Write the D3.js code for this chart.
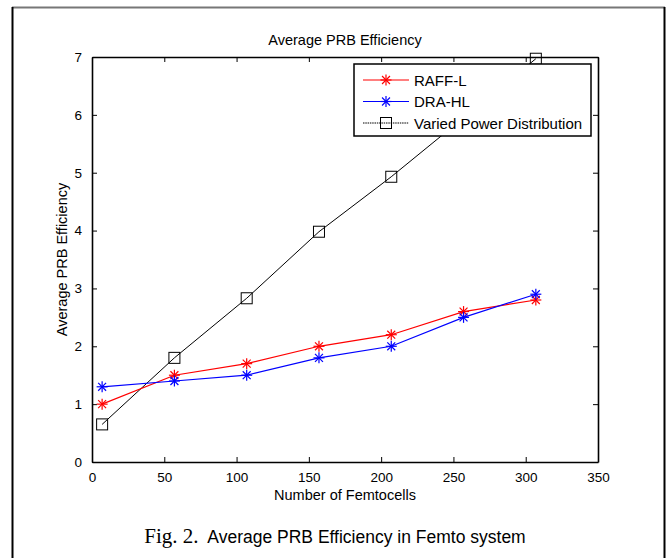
<!DOCTYPE html>
<html>
  <head>
    <meta charset="utf-8">
    <script src="https://d3js.org/d3.v7.min.js"></script>
    <style>
      body { margin: 0; background: #fff; }
      text { font-family: "Liberation Sans", Arial, sans-serif; }
    </style>
  </head>
  <body>
    <div id="my_chart"></div>
    <script>
      // values
      var femtocells = [7, 57, 107, 157, 207, 257, 307];
      var raffL = [1.0, 1.5, 1.7, 2.0, 2.2, 2.6, 2.8];
      var draHL = [1.3, 1.4, 1.5, 1.8, 2.0, 2.5, 2.9];
      var variedPower = [0.65, 1.8, 2.83, 3.98, 4.93, 5.95, 6.97];
      var xTicks = [0, 50, 100, 150, 200, 250, 300, 350];
      var yTicks = [0, 1, 2, 3, 4, 5, 6, 7];
      var seriesNames = ["RAFF-L", "DRA-HL", "Varied Power Distribution"];

      var W = 668, H = 558;
      var margin = {top: 57, right: 70, bottom: 96, left: 92},
          width = W - margin.left - margin.right,
          height = H - margin.top - margin.bottom;

      var svg = d3.select("#my_chart").append("svg")
          .attr("width", W).attr("height", H);

      // outer figure frame
      svg.append("line").attr("x1", 12).attr("x2", 665).attr("y1", 7.5).attr("y2", 7.5)
          .attr("stroke", "#777").attr("stroke-width", 2);
      svg.append("line").attr("x1", 12.5).attr("x2", 12.5).attr("y1", 7).attr("y2", H)
          .attr("stroke", "#000").attr("stroke-width", 2);
      svg.append("line").attr("x1", 664.5).attr("x2", 664.5).attr("y1", 7).attr("y2", H)
          .attr("stroke", "#000").attr("stroke-width", 2);

      var g = svg.append("g")
          .attr("transform", "translate(" + margin.left + "," + margin.top + ")");

      var x = d3.scaleLinear().domain([0, 350]).range([0, width]);
      var y = d3.scaleLinear().domain([0, 7]).range([height, 0]);

      // axes with inward ticks (box style)
      var xAxis = g.append("g").attr("transform", "translate(0," + height + ")")
          .call(d3.axisBottom(x).tickValues(xTicks).tickSizeInner(-5).tickSizeOuter(0).tickPadding(10));
      var xTop = g.append("g")
          .call(d3.axisTop(x).tickValues(xTicks).tickSizeInner(-5).tickSizeOuter(0).tickFormat(""));
      var yAxis = g.append("g")
          .call(d3.axisLeft(y).tickValues(yTicks).tickFormat(d3.format("d"))
            .tickSizeInner(-5).tickSizeOuter(0).tickPadding(10));
      var yRight = g.append("g").attr("transform", "translate(" + width + ",0)")
          .call(d3.axisRight(y).tickValues(yTicks).tickSizeInner(-5).tickSizeOuter(0).tickFormat(""));

      [xAxis, xTop, yAxis, yRight].forEach(function(a) {
        a.select(".domain").attr("stroke", "#000").attr("stroke-width", 1.6);
        a.selectAll(".tick line").attr("stroke", "#000");
        a.selectAll(".tick text").attr("font-size", "13.5px").attr("fill", "#000")
          .style("font-family", "'Liberation Sans', Arial, sans-serif");
      });

      // labels
      svg.append("text").attr("x", margin.left + width / 2).attr("y", 45)
          .attr("text-anchor", "middle").attr("font-size", "14.5px").text("Average PRB Efficiency");
      svg.append("text").attr("x", margin.left + width / 2).attr("y", 500)
          .attr("text-anchor", "middle").attr("font-size", "14.5px").text("Number of Femtocells");
      svg.append("text")
          .attr("transform", "translate(67," + (margin.top + height / 2) + ") rotate(-90)")
          .attr("text-anchor", "middle").attr("font-size", "14.5px").text("Average PRB Efficiency");

      var caption = svg.append("text").attr("x", W / 2 + 1).attr("y", 543)
          .attr("text-anchor", "middle").attr("font-size", "17.5px");
      caption.append("tspan").style("font-family", "'Liberation Serif', 'Times New Roman', serif")
          .attr("font-size", "21px").text("Fig. 2.");
      caption.append("tspan").text("\u00a0 Average PRB Efficiency in Femto system");

      var line = d3.line().x(function(d) { return x(d[0]); }).y(function(d) { return y(d[1]); });

      function asterisk(sel, color, r) {
        var s = sel.append("g").attr("stroke", color).attr("stroke-width", 1.2);
        s.append("line").attr("x1", -r).attr("x2", r).attr("y1", 0).attr("y2", 0);
        s.append("line").attr("x1", 0).attr("x2", 0).attr("y1", -r).attr("y2", r);
        var k = r * 0.72;
        s.append("line").attr("x1", -k).attr("x2", k).attr("y1", -k).attr("y2", k);
        s.append("line").attr("x1", -k).attr("x2", k).attr("y1", k).attr("y2", -k);
      }
      function square(sel, color, r) {
        sel.append("rect").attr("x", -r).attr("y", -r).attr("width", 2 * r).attr("height", 2 * r)
          .attr("fill", "none").attr("stroke", color).attr("stroke-width", 1);
      }

      var series = [
        {name: seriesNames[0], values: raffL, color: "#ff0000", marker: asterisk, r: 5.5, w: 1.2},
        {name: seriesNames[1], values: draHL, color: "#0000ff", marker: asterisk, r: 5.5, w: 1.2},
        {name: seriesNames[2], values: variedPower, color: "#000000", marker: square, r: 5.5, w: 1}
      ];

      // draw black first so coloured lines sit on top
      [series[2], series[0], series[1]].forEach(function(s) {
        var pts = femtocells.map(function(f, i) { return [f, s.values[i]]; });
        g.append("path").datum(pts).attr("d", line)
          .attr("fill", "none").attr("stroke", s.color).attr("stroke-width", s.w);
        g.selectAll(null).data(pts).enter().append("g")
          .attr("transform", function(d) { return "translate(" + x(d[0]) + "," + y(d[1]) + ")"; })
          .each(function() { s.marker(d3.select(this), s.color, s.r); });
      });

      // legend
      var lg = svg.append("g").attr("transform", "translate(354,64)");
      lg.append("rect").attr("width", 237).attr("height", 72)
        .attr("fill", "#fff").attr("stroke", "#000").attr("stroke-width", 1.5);
      series.forEach(function(s, i) {
        var yy = 16 + i * 21.5;
        lg.append("line").attr("x1", 9).attr("x2", 55).attr("y1", yy).attr("y2", yy)
          .attr("stroke", s.color).attr("stroke-width", s.w)
          .attr("stroke-dasharray", i === 2 ? "1.5,0.8" : null);
        var m = lg.append("g").attr("transform", "translate(32," + yy + ")");
        s.marker(m, s.color, s.r);
        lg.append("text").attr("x", 60).attr("y", yy + 5.5).attr("font-size", "15px").text(s.name);
      });
    </script>
  </body>
</html>
